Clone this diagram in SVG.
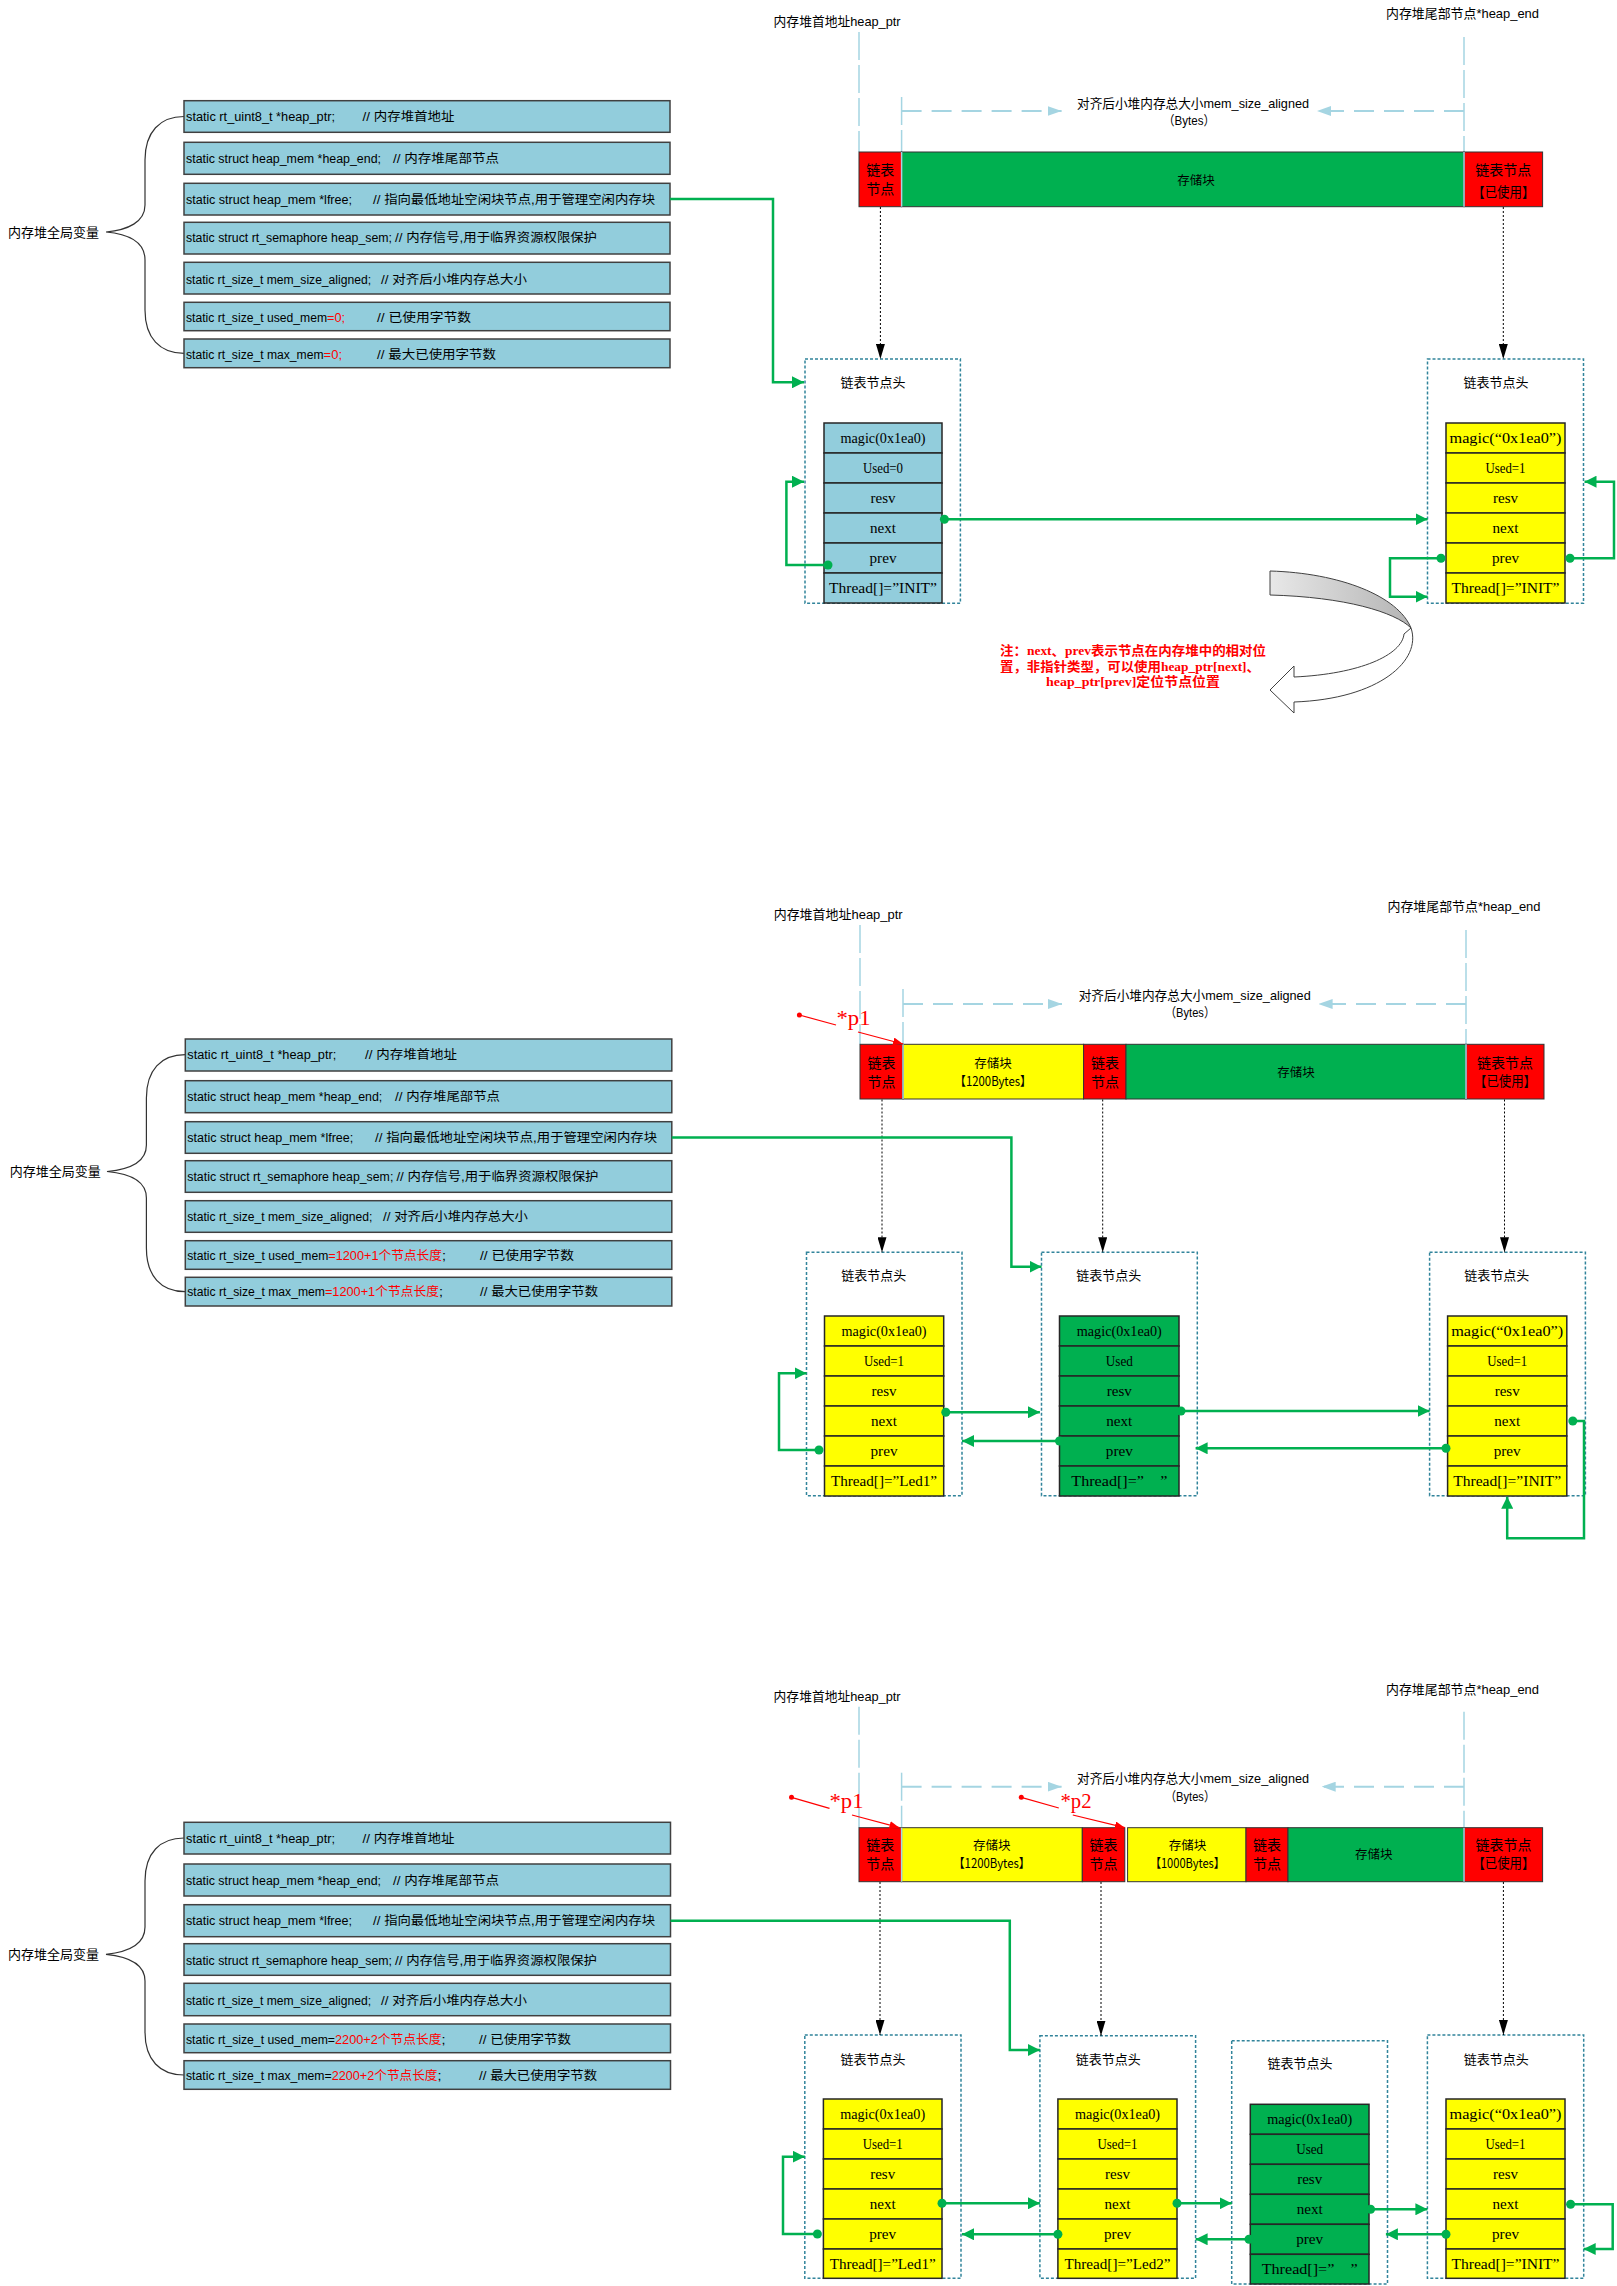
<svg xmlns="http://www.w3.org/2000/svg" width="1617" height="2286" viewBox="0 0 1617 2286">
<defs>
<style>
.vb{fill:#92cddc;stroke:#404040;stroke-width:1.5}
.cd{font-family:"Liberation Sans","Noto Sans CJK SC",sans-serif;font-size:12.5px;fill:#000}
.rd{fill:#ff0000}
.lb{font-family:"Liberation Sans","Noto Sans CJK SC",sans-serif;font-size:13px;fill:#000}
.br{fill:none;stroke:#333;stroke-width:1.2}
.nb{fill:none;stroke:#31849b;stroke-width:1.5;stroke-dasharray:3,2}
.cb{fill:#92cddc;stroke:#262626;stroke-width:1.5}
.cy{fill:#ffff00;stroke:#262626;stroke-width:1.5}
.cg{fill:#00b050;stroke:#262626;stroke-width:1.5}
.nt{font-family:"Liberation Serif","Noto Sans CJK SC",serif;font-size:14px;text-anchor:middle;fill:#000;white-space:pre}
.hd{font-family:"Noto Sans CJK SC",sans-serif;font-size:13px;text-anchor:middle;fill:#000}
.gc{fill:none;stroke:#00b050;stroke-width:2.5}
.dt{fill:#00b050}
.vd{fill:none;stroke:#a5d5e2;stroke-width:1.5;stroke-dasharray:28,5}
.hl{fill:none;stroke:#a5d5e2;stroke-width:2;stroke-dasharray:20,10}
.kd{fill:none;stroke:#000;stroke-width:1;stroke-dasharray:2,2}
.sr{fill:#ff0000;stroke:#333;stroke-width:1}
.sy{fill:#ffff00;stroke:#333;stroke-width:1}
.sg{fill:#00b050;stroke:#333;stroke-width:1}
.bt{font-family:"Noto Sans CJK SC",sans-serif;font-size:14px;text-anchor:middle;fill:#000}
.bs{font-family:"Noto Sans CJK SC",sans-serif;font-size:12.5px;text-anchor:middle;fill:#000}
.pl{fill:none;stroke:#ff0000;stroke-width:1.2}
.pt{font-family:"Liberation Serif",serif;font-size:21px;fill:#ff0000}
.nn{font-family:"Liberation Serif","Noto Sans CJK SC",serif;font-size:13px;font-weight:bold;fill:#ff0000}
.sep{fill:none;stroke:#a5d5e2;stroke-width:1.5}
</style>
<marker id="ag" viewBox="0 0 12 12" refX="12" refY="6" markerWidth="12" markerHeight="12" markerUnits="userSpaceOnUse" orient="auto"><path d="M0,0L12,6L0,12z" fill="#00b050"/></marker>
<marker id="ak" viewBox="0 0 15 9" refX="15" refY="4.5" markerWidth="15" markerHeight="9" markerUnits="userSpaceOnUse" orient="auto"><path d="M0,0L15,4.5L0,9z" fill="#000"/></marker>
<marker id="al" viewBox="0 0 14 10" refX="14" refY="5" markerWidth="14" markerHeight="10" markerUnits="userSpaceOnUse" orient="auto"><path d="M0,0L14,5L0,10z" fill="#a5d5e2"/></marker>
<marker id="ar" viewBox="0 0 10 8" refX="10" refY="4" markerWidth="10" markerHeight="8" markerUnits="userSpaceOnUse" orient="auto"><path d="M0,0L10,4L0,8z" fill="#ff0000"/></marker>
<linearGradient id="gg" x1="0" y1="0" x2="1" y2="0"><stop offset="0" stop-color="#e8e8e8"/><stop offset="1" stop-color="#b4b4b4"/></linearGradient>
</defs>
<rect x="0" y="0" width="1617" height="2286" fill="#fff"/>

<!-- ===================== SECTION 1 ===================== -->
<g id="s1-globals">
<text class="lb" x="8" y="236.5" textLength="91" lengthAdjust="spacingAndGlyphs">内存堆全局变量</text>
<path class="br" d="M184,116.5 C160,116.5 145,132 145,160 L145,205 C145,222 128,230 106,232 C128,234 145,242 145,260 L145,310 C145,338 160,353.4 184,353.4"/>
<g id="s1-row1"><rect class="vb" x="184" y="100.7" width="486" height="31.6"/><text class="cd" x="186" y="121" textLength="149" lengthAdjust="spacingAndGlyphs">static rt_uint8_t *heap_ptr;</text><text class="cd" x="362.5" y="121" textLength="92" lengthAdjust="spacingAndGlyphs">// 内存堆首地址</text></g>
<g id="s1-row2"><rect class="vb" x="184" y="142.3" width="486" height="32"/><text class="cd" x="186" y="163" textLength="195" lengthAdjust="spacingAndGlyphs">static struct heap_mem *heap_end;</text><text class="cd" x="393" y="163" textLength="106" lengthAdjust="spacingAndGlyphs">// 内存堆尾部节点</text></g>
<g id="s1-row3"><rect class="vb" x="184" y="183.3" width="486" height="31.7"/><text class="cd" x="186" y="204" textLength="166" lengthAdjust="spacingAndGlyphs">static struct heap_mem *lfree;</text><text class="cd" x="373" y="204" textLength="282" lengthAdjust="spacingAndGlyphs">// 指向最低地址空闲块节点,用于管理空闲内存块</text></g>
<g id="s1-row4"><rect class="vb" x="184" y="222.3" width="486" height="31.7"/><text class="cd" x="186" y="242" textLength="206" lengthAdjust="spacingAndGlyphs">static struct rt_semaphore heap_sem;</text><text class="cd" x="395" y="242" textLength="202" lengthAdjust="spacingAndGlyphs">// 内存信号,用于临界资源权限保护</text></g>
<g id="s1-row5"><rect class="vb" x="184" y="262.3" width="486" height="31.7"/><text class="cd" x="186" y="283.5" textLength="185" lengthAdjust="spacingAndGlyphs">static rt_size_t mem_size_aligned;</text><text class="cd" x="381" y="283.5" textLength="146" lengthAdjust="spacingAndGlyphs">// 对齐后小堆内存总大小</text></g>
<g id="s1-row6"><rect class="vb" x="184" y="302.3" width="486" height="28.4"/><text class="cd" x="186" y="321.8" textLength="141" lengthAdjust="spacingAndGlyphs">static rt_size_t used_mem</text><text class="cd rd" x="327" y="321.8" textLength="18" lengthAdjust="spacingAndGlyphs">=0;</text><text class="cd" x="377" y="321.8" textLength="94" lengthAdjust="spacingAndGlyphs">// 已使用字节数</text></g>
<g id="s1-row7"><rect class="vb" x="184" y="339" width="486" height="28.7"/><text class="cd" x="186" y="358.8" textLength="137.6" lengthAdjust="spacingAndGlyphs">static rt_size_t max_mem</text><text class="cd rd" x="323.6" y="358.8" textLength="18.4" lengthAdjust="spacingAndGlyphs">=0;</text><text class="cd" x="377" y="358.8" textLength="119" lengthAdjust="spacingAndGlyphs">// 最大已使用字节数</text></g>
</g>

<g id="s1-heap">
<text class="lb" x="773.6" y="25.5" textLength="127" lengthAdjust="spacingAndGlyphs">内存堆首地址heap_ptr</text>
<text class="lb" x="1386" y="18" textLength="153" lengthAdjust="spacingAndGlyphs">内存堆尾部节点*heap_end</text>
<text class="lb" x="1077" y="108" textLength="232" lengthAdjust="spacingAndGlyphs">对齐后小堆内存总大小mem_size_aligned</text>
<text class="lb" x="1163" y="124.5" textLength="52" lengthAdjust="spacingAndGlyphs">（Bytes）</text>
<line class="vd" x1="859" y1="32" x2="859" y2="152"/>
<line class="vd" x1="1464" y1="37" x2="1464" y2="152"/>
<line class="vd" x1="901.6" y1="97" x2="901.6" y2="152"/>
<line class="hl" x1="901.6" y1="111" x2="1061.6" y2="111" marker-end="url(#al)"/>
<line class="hl" x1="1464" y1="111" x2="1317" y2="111" marker-end="url(#al)"/>
<rect class="sr" x="859" y="152" width="42.6" height="54.7"/>
<rect class="sg" x="901.6" y="152" width="562.4" height="54.7"/>
<rect class="sr" x="1464" y="152" width="78.6" height="54.7"/>
<line class="sep" x1="901.6" y1="152" x2="901.6" y2="206.7"/>
<line class="sep" x1="1464" y1="152" x2="1464" y2="206.7"/>
<text class="bt" x="880.3" y="175" font-size="15">链表</text>
<text class="bt" x="880.3" y="193.5" font-size="15">节点</text>
<text class="bs" x="1196" y="184.5">存储块</text>
<text class="bt" x="1503.3" y="175">链表节点</text>
<text class="bt" x="1503.3" y="196.5" textLength="62" lengthAdjust="spacingAndGlyphs">【已使用】</text>
</g>

<g id="s1-node-L">
<rect class="nb" x="805" y="359" width="155.4" height="244.3"/>
<text class="hd" x="873" y="386.5">链表节点头</text>
<rect class="cb" x="824" y="423" width="118" height="30"/><rect class="cb" x="824" y="453" width="118" height="30"/><rect class="cb" x="824" y="483" width="118" height="30"/><rect class="cb" x="824" y="513" width="118" height="30"/><rect class="cb" x="824" y="543" width="118" height="30"/><rect class="cb" x="824" y="573" width="118" height="30"/>
<text class="nt" x="883" y="442.5" textLength="85" lengthAdjust="spacingAndGlyphs">magic(0x1ea0)</text>
<text class="nt" x="883" y="472.5" textLength="40" lengthAdjust="spacingAndGlyphs">Used=0</text>
<text class="nt" x="883" y="502.5" textLength="25" lengthAdjust="spacingAndGlyphs">resv</text>
<text class="nt" x="883" y="532.5" textLength="26" lengthAdjust="spacingAndGlyphs">next</text>
<text class="nt" x="883" y="562.5" textLength="27" lengthAdjust="spacingAndGlyphs">prev</text>
<text class="nt" x="883" y="592.5" textLength="108" lengthAdjust="spacingAndGlyphs">Thread[]=”INIT”</text>
</g>

<g id="s1-node-R">
<rect class="nb" x="1427.5" y="359" width="156" height="244.3"/>
<text class="hd" x="1496" y="386.5">链表节点头</text>
<rect class="cy" x="1446" y="423" width="119" height="30"/><rect class="cy" x="1446" y="453" width="119" height="30"/><rect class="cy" x="1446" y="483" width="119" height="30"/><rect class="cy" x="1446" y="513" width="119" height="30"/><rect class="cy" x="1446" y="543" width="119" height="30"/><rect class="cy" x="1446" y="573" width="119" height="30"/>
<text class="nt" x="1505.5" y="442.5" textLength="112" lengthAdjust="spacingAndGlyphs">magic(“0x1ea0”)</text>
<text class="nt" x="1505.5" y="472.5" textLength="40" lengthAdjust="spacingAndGlyphs">Used=1</text>
<text class="nt" x="1505.5" y="502.5" textLength="25" lengthAdjust="spacingAndGlyphs">resv</text>
<text class="nt" x="1505.5" y="532.5" textLength="26" lengthAdjust="spacingAndGlyphs">next</text>
<text class="nt" x="1505.5" y="562.5" textLength="27" lengthAdjust="spacingAndGlyphs">prev</text>
<text class="nt" x="1505.5" y="592.5" textLength="108" lengthAdjust="spacingAndGlyphs">Thread[]=”INIT”</text>
</g>

<g id="s1-note">
<path d="M1270,571 C1340,573 1398,596 1411,628 C1395,612 1345,597 1270,595 Z" fill="url(#gg)" stroke="#404040" stroke-width="1"/>
<path d="M1411,628 C1422,660 1380,699 1294,702 L1294,713 L1270,690 L1294,666 L1294,677 C1360,674 1402,655 1404,634 Z" fill="#fff" stroke="#404040" stroke-width="1"/>
<text class="nn" x="1000" y="654.5" textLength="266" lengthAdjust="spacingAndGlyphs">注：next、prev表示节点在内存堆中的相对位</text>
<text class="nn" x="1000" y="670.5" textLength="260" lengthAdjust="spacingAndGlyphs">置，非指针类型，可以使用heap_ptr[next]、</text>
<text class="nn" x="1046" y="686" textLength="174" lengthAdjust="spacingAndGlyphs">heap_ptr[prev]定位节点位置</text>
</g>

<!-- ===================== SECTION 2 ===================== -->
<g id="s2-globals">
<text class="lb" x="9.8" y="1176" textLength="91" lengthAdjust="spacingAndGlyphs">内存堆全局变量</text>
<path class="br" d="M185.3,1054.7 C161,1054.7 146.4,1070 146.4,1098 L146.4,1145 C146.4,1162 129,1169.5 107,1171.5 C129,1173.5 146.4,1181 146.4,1198 L146.4,1248 C146.4,1276 161,1291.7 185.3,1291.7"/>
<g id="s2-row1"><rect class="vb" x="185.3" y="1039" width="486.5" height="32"/><text class="cd" x="187.3" y="1059.2" textLength="149" lengthAdjust="spacingAndGlyphs">static rt_uint8_t *heap_ptr;</text><text class="cd" x="365" y="1059.2" textLength="92" lengthAdjust="spacingAndGlyphs">// 内存堆首地址</text></g>
<g id="s2-row2"><rect class="vb" x="185.3" y="1080.7" width="486.5" height="32"/><text class="cd" x="187.3" y="1101.2" textLength="195" lengthAdjust="spacingAndGlyphs">static struct heap_mem *heap_end;</text><text class="cd" x="395" y="1101.2" textLength="105" lengthAdjust="spacingAndGlyphs">// 内存堆尾部节点</text></g>
<g id="s2-row3"><rect class="vb" x="185.3" y="1121.7" width="486.5" height="31.6"/><text class="cd" x="187.3" y="1141.8" textLength="166" lengthAdjust="spacingAndGlyphs">static struct heap_mem *lfree;</text><text class="cd" x="375" y="1141.8" textLength="282" lengthAdjust="spacingAndGlyphs">// 指向最低地址空闲块节点,用于管理空闲内存块</text></g>
<g id="s2-row4"><rect class="vb" x="185.3" y="1160.7" width="486.5" height="31.6"/><text class="cd" x="187.3" y="1181.2" textLength="206" lengthAdjust="spacingAndGlyphs">static struct rt_semaphore heap_sem;</text><text class="cd" x="396.4" y="1181.2" textLength="202" lengthAdjust="spacingAndGlyphs">// 内存信号,用于临界资源权限保护</text></g>
<g id="s2-row5"><rect class="vb" x="185.3" y="1200.7" width="486.5" height="31.6"/><text class="cd" x="187.3" y="1221.2" textLength="185" lengthAdjust="spacingAndGlyphs">static rt_size_t mem_size_aligned;</text><text class="cd" x="383" y="1221.2" textLength="145" lengthAdjust="spacingAndGlyphs">// 对齐后小堆内存总大小</text></g>
<g id="s2-row6"><rect class="vb" x="185.3" y="1240.7" width="486.5" height="28.6"/><text class="cd" x="187.3" y="1259.5" textLength="141" lengthAdjust="spacingAndGlyphs">static rt_size_t used_mem</text><text class="cd rd" x="328.3" y="1259.5" textLength="113.7" lengthAdjust="spacingAndGlyphs">=1200+1个节点长度</text><text class="cd" x="442" y="1259.5" textLength="4" lengthAdjust="spacingAndGlyphs">;</text><text class="cd" x="480" y="1259.5" textLength="94" lengthAdjust="spacingAndGlyphs">// 已使用字节数</text></g>
<g id="s2-row7"><rect class="vb" x="185.3" y="1277.3" width="486.5" height="28.7"/><text class="cd" x="187.3" y="1296.2" textLength="137.6" lengthAdjust="spacingAndGlyphs">static rt_size_t max_mem</text><text class="cd rd" x="324.9" y="1296.2" textLength="114" lengthAdjust="spacingAndGlyphs">=1200+1个节点长度</text><text class="cd" x="439" y="1296.2" textLength="4" lengthAdjust="spacingAndGlyphs">;</text><text class="cd" x="480" y="1296.2" textLength="118" lengthAdjust="spacingAndGlyphs">// 最大已使用字节数</text></g>
</g>

<g id="s2-heap">
<text class="lb" x="773.7" y="919" textLength="129" lengthAdjust="spacingAndGlyphs">内存堆首地址heap_ptr</text>
<text class="lb" x="1387.5" y="910.5" textLength="153" lengthAdjust="spacingAndGlyphs">内存堆尾部节点*heap_end</text>
<text class="lb" x="1078.7" y="999.5" textLength="232" lengthAdjust="spacingAndGlyphs">对齐后小堆内存总大小mem_size_aligned</text>
<text class="lb" x="1165" y="1017" textLength="50" lengthAdjust="spacingAndGlyphs">（Bytes）</text>
<line class="vd" x1="860" y1="925" x2="860" y2="1044.3"/>
<line class="vd" x1="1466" y1="930" x2="1466" y2="1044.3"/>
<line class="vd" x1="903" y1="989" x2="903" y2="1044.3"/>
<line class="hl" x1="903" y1="1004" x2="1062" y2="1004" marker-end="url(#al)"/>
<line class="hl" x1="1466" y1="1004" x2="1318.6" y2="1004" marker-end="url(#al)"/>
<rect class="sr" x="860" y="1044.3" width="43" height="54.7"/>
<rect class="sy" x="903" y="1044.3" width="180.6" height="54.7"/>
<rect class="sr" x="1083.6" y="1044.3" width="42.4" height="54.7"/>
<rect class="sg" x="1126" y="1044.3" width="340" height="54.7"/>
<rect class="sr" x="1466" y="1044.3" width="78" height="54.7"/>
<line class="sep" x1="903" y1="1044.3" x2="903" y2="1099"/>
<line class="sep" x1="1466" y1="1044.3" x2="1466" y2="1099"/>
<text class="bt" x="881.5" y="1068" font-size="15">链表</text>
<text class="bt" x="881.5" y="1087" font-size="15">节点</text>
<text class="bs" x="993" y="1067.5">存储块</text>
<text class="bs" x="993" y="1086" textLength="77" lengthAdjust="spacingAndGlyphs">【1200Bytes】</text>
<text class="bt" x="1105" y="1068" font-size="15">链表</text>
<text class="bt" x="1105" y="1087" font-size="15">节点</text>
<text class="bs" x="1296" y="1076.5">存储块</text>
<text class="bt" x="1505" y="1068">链表节点</text>
<text class="bt" x="1505" y="1086" textLength="62" lengthAdjust="spacingAndGlyphs">【已使用】</text>
<circle cx="799.4" cy="1015" r="2.5" fill="#ff0000"/>
<line class="pl" x1="799.4" y1="1015" x2="836" y2="1025"/>
<text class="pt" x="836.5" y="1025" textLength="34" lengthAdjust="spacingAndGlyphs">*p1</text>
<line class="pl" x1="858" y1="1032" x2="903" y2="1044" marker-end="url(#ar)"/>
</g>

<g id="s2-node-A">
<rect class="nb" x="806.5" y="1252.3" width="155.5" height="243.4"/>
<text class="hd" x="873.7" y="1279.5">链表节点头</text>
<rect class="cy" x="824.5" y="1316" width="119.2" height="30"/><rect class="cy" x="824.5" y="1346" width="119.2" height="30"/><rect class="cy" x="824.5" y="1376" width="119.2" height="30"/><rect class="cy" x="824.5" y="1406" width="119.2" height="30"/><rect class="cy" x="824.5" y="1436" width="119.2" height="30"/><rect class="cy" x="824.5" y="1466" width="119.2" height="30"/>
<text class="nt" x="884" y="1335.5" textLength="85" lengthAdjust="spacingAndGlyphs">magic(0x1ea0)</text>
<text class="nt" x="884" y="1365.5" textLength="40" lengthAdjust="spacingAndGlyphs">Used=1</text>
<text class="nt" x="884" y="1395.5" textLength="25" lengthAdjust="spacingAndGlyphs">resv</text>
<text class="nt" x="884" y="1425.5" textLength="26" lengthAdjust="spacingAndGlyphs">next</text>
<text class="nt" x="884" y="1455.5" textLength="27" lengthAdjust="spacingAndGlyphs">prev</text>
<text class="nt" x="884" y="1485.5" textLength="106" lengthAdjust="spacingAndGlyphs">Thread[]=”Led1”</text>
</g>

<g id="s2-node-B">
<rect class="nb" x="1041.5" y="1252.3" width="155.8" height="243.4"/>
<text class="hd" x="1108.7" y="1279.5">链表节点头</text>
<rect class="cg" x="1059.5" y="1316" width="119.5" height="30"/><rect class="cg" x="1059.5" y="1346" width="119.5" height="30"/><rect class="cg" x="1059.5" y="1376" width="119.5" height="30"/><rect class="cg" x="1059.5" y="1406" width="119.5" height="30"/><rect class="cg" x="1059.5" y="1436" width="119.5" height="30"/><rect class="cg" x="1059.5" y="1466" width="119.5" height="30"/>
<text class="nt" x="1119.3" y="1335.5" textLength="85" lengthAdjust="spacingAndGlyphs">magic(0x1ea0)</text>
<text class="nt" x="1119.3" y="1365.5" textLength="27" lengthAdjust="spacingAndGlyphs">Used</text>
<text class="nt" x="1119.3" y="1395.5" textLength="25" lengthAdjust="spacingAndGlyphs">resv</text>
<text class="nt" x="1119.3" y="1425.5" textLength="26" lengthAdjust="spacingAndGlyphs">next</text>
<text class="nt" x="1119.3" y="1455.5" textLength="27" lengthAdjust="spacingAndGlyphs">prev</text>
<text class="nt" x="1119.3" y="1485.5" textLength="96" lengthAdjust="spacingAndGlyphs">Thread[]=”    ”</text>
</g>

<g id="s2-node-C">
<rect class="nb" x="1429.6" y="1252.3" width="155.8" height="243.4"/>
<text class="hd" x="1496.8" y="1279.5">链表节点头</text>
<rect class="cy" x="1447.6" y="1316" width="119.2" height="30"/><rect class="cy" x="1447.6" y="1346" width="119.2" height="30"/><rect class="cy" x="1447.6" y="1376" width="119.2" height="30"/><rect class="cy" x="1447.6" y="1406" width="119.2" height="30"/><rect class="cy" x="1447.6" y="1436" width="119.2" height="30"/><rect class="cy" x="1447.6" y="1466" width="119.2" height="30"/>
<text class="nt" x="1507.2" y="1335.5" textLength="112" lengthAdjust="spacingAndGlyphs">magic(“0x1ea0”)</text>
<text class="nt" x="1507.2" y="1365.5" textLength="40" lengthAdjust="spacingAndGlyphs">Used=1</text>
<text class="nt" x="1507.2" y="1395.5" textLength="25" lengthAdjust="spacingAndGlyphs">resv</text>
<text class="nt" x="1507.2" y="1425.5" textLength="26" lengthAdjust="spacingAndGlyphs">next</text>
<text class="nt" x="1507.2" y="1455.5" textLength="27" lengthAdjust="spacingAndGlyphs">prev</text>
<text class="nt" x="1507.2" y="1485.5" textLength="108" lengthAdjust="spacingAndGlyphs">Thread[]=”INIT”</text>
</g>

<!-- ===================== SECTION 3 ===================== -->
<g id="s3-globals">
<text class="lb" x="8" y="1959" textLength="91" lengthAdjust="spacingAndGlyphs">内存堆全局变量</text>
<path class="br" d="M184,1838 C160,1838 145,1853 145,1881 L145,1927 C145,1944 128,1952 106,1954.3 C128,1956.5 145,1964 145,1981 L145,2032 C145,2060 160,2075 184,2075"/>
<g id="s3-row1"><rect class="vb" x="184" y="1822.3" width="486.5" height="31.7"/><text class="cd" x="186" y="1842.5" textLength="149" lengthAdjust="spacingAndGlyphs">static rt_uint8_t *heap_ptr;</text><text class="cd" x="362.5" y="1842.5" textLength="92" lengthAdjust="spacingAndGlyphs">// 内存堆首地址</text></g>
<g id="s3-row2"><rect class="vb" x="184" y="1864" width="486.5" height="32"/><text class="cd" x="186" y="1884.5" textLength="195" lengthAdjust="spacingAndGlyphs">static struct heap_mem *heap_end;</text><text class="cd" x="393" y="1884.5" textLength="106" lengthAdjust="spacingAndGlyphs">// 内存堆尾部节点</text></g>
<g id="s3-row3"><rect class="vb" x="184" y="1904.7" width="486.5" height="32"/><text class="cd" x="186" y="1925.2" textLength="166" lengthAdjust="spacingAndGlyphs">static struct heap_mem *lfree;</text><text class="cd" x="373" y="1925.2" textLength="282" lengthAdjust="spacingAndGlyphs">// 指向最低地址空闲块节点,用于管理空闲内存块</text></g>
<g id="s3-row4"><rect class="vb" x="184" y="1943.7" width="486.5" height="31.6"/><text class="cd" x="186" y="1964.5" textLength="206" lengthAdjust="spacingAndGlyphs">static struct rt_semaphore heap_sem;</text><text class="cd" x="395" y="1964.5" textLength="202" lengthAdjust="spacingAndGlyphs">// 内存信号,用于临界资源权限保护</text></g>
<g id="s3-row5"><rect class="vb" x="184" y="1983.3" width="486.5" height="32.4"/><text class="cd" x="186" y="2004.5" textLength="185" lengthAdjust="spacingAndGlyphs">static rt_size_t mem_size_aligned;</text><text class="cd" x="381" y="2004.5" textLength="146" lengthAdjust="spacingAndGlyphs">// 对齐后小堆内存总大小</text></g>
<g id="s3-row6"><rect class="vb" x="184" y="2024" width="486.5" height="28.7"/><text class="cd" x="186" y="2043.5" textLength="149" lengthAdjust="spacingAndGlyphs">static rt_size_t used_mem=</text><text class="cd rd" x="335" y="2043.5" textLength="106.5" lengthAdjust="spacingAndGlyphs">2200+2个节点长度</text><text class="cd" x="441.5" y="2043.5" textLength="4" lengthAdjust="spacingAndGlyphs">;</text><text class="cd" x="479" y="2043.5" textLength="92" lengthAdjust="spacingAndGlyphs">// 已使用字节数</text></g>
<g id="s3-row7"><rect class="vb" x="184" y="2060.7" width="486.5" height="28.6"/><text class="cd" x="186" y="2079.5" textLength="145.7" lengthAdjust="spacingAndGlyphs">static rt_size_t max_mem=</text><text class="cd rd" x="331.7" y="2079.5" textLength="105.8" lengthAdjust="spacingAndGlyphs">2200+2个节点长度</text><text class="cd" x="437.5" y="2079.5" textLength="4" lengthAdjust="spacingAndGlyphs">;</text><text class="cd" x="479" y="2079.5" textLength="118" lengthAdjust="spacingAndGlyphs">// 最大已使用字节数</text></g>
</g>

<g id="s3-heap">
<text class="lb" x="773.6" y="1701" textLength="127" lengthAdjust="spacingAndGlyphs">内存堆首地址heap_ptr</text>
<text class="lb" x="1386" y="1694" textLength="153" lengthAdjust="spacingAndGlyphs">内存堆尾部节点*heap_end</text>
<text class="lb" x="1077" y="1783" textLength="232" lengthAdjust="spacingAndGlyphs">对齐后小堆内存总大小mem_size_aligned</text>
<text class="lb" x="1165" y="1800.5" textLength="50" lengthAdjust="spacingAndGlyphs">（Bytes）</text>
<line class="vd" x1="859" y1="1706.7" x2="859" y2="1827.7"/>
<line class="vd" x1="1464" y1="1711.7" x2="1464" y2="1827.7"/>
<line class="vd" x1="901.6" y1="1772.7" x2="901.6" y2="1827.7"/>
<line class="hl" x1="901.6" y1="1786.7" x2="1061.6" y2="1786.7" marker-end="url(#al)"/>
<line class="hl" x1="1464" y1="1786.7" x2="1321.7" y2="1786.7" marker-end="url(#al)"/>
<rect class="sr" x="859" y="1827.7" width="42.6" height="54"/>
<rect class="sy" x="901.6" y="1827.7" width="180.7" height="54"/>
<rect class="sr" x="1082.3" y="1827.7" width="42.5" height="54"/>
<rect class="sy" x="1127.6" y="1827.7" width="118.4" height="54"/>
<rect class="sr" x="1246" y="1827.7" width="42" height="54"/>
<rect class="sg" x="1288" y="1827.7" width="176" height="54"/>
<rect class="sr" x="1464" y="1827.7" width="78.6" height="54"/>
<line class="sep" x1="901.6" y1="1827.7" x2="901.6" y2="1881.7"/>
<line class="sep" x1="1464" y1="1827.7" x2="1464" y2="1881.7"/>
<text class="bt" x="880.3" y="1850" font-size="15">链表</text>
<text class="bt" x="880.3" y="1868.5" font-size="15">节点</text>
<text class="bs" x="991.7" y="1850">存储块</text>
<text class="bs" x="991.7" y="1868" textLength="77" lengthAdjust="spacingAndGlyphs">【1200Bytes】</text>
<text class="bt" x="1103.5" y="1850" font-size="15">链表</text>
<text class="bt" x="1103.5" y="1868.5" font-size="15">节点</text>
<text class="bs" x="1187.4" y="1850">存储块</text>
<text class="bs" x="1187.4" y="1868" textLength="75" lengthAdjust="spacingAndGlyphs">【1000Bytes】</text>
<text class="bt" x="1267" y="1850" font-size="15">链表</text>
<text class="bt" x="1267" y="1868.5" font-size="15">节点</text>
<text class="bs" x="1373.7" y="1859">存储块</text>
<text class="bt" x="1503.4" y="1850">链表节点</text>
<text class="bt" x="1503.4" y="1868" textLength="62" lengthAdjust="spacingAndGlyphs">【已使用】</text>
<circle cx="791.5" cy="1797.3" r="2.5" fill="#ff0000"/>
<line class="pl" x1="791.5" y1="1797.3" x2="829.5" y2="1808.3"/>
<text class="pt" x="829.5" y="1808" textLength="34" lengthAdjust="spacingAndGlyphs">*p1</text>
<line class="pl" x1="852" y1="1815" x2="899.4" y2="1827.7" marker-end="url(#ar)"/>
<circle cx="1021.3" cy="1797.3" r="2.5" fill="#ff0000"/>
<line class="pl" x1="1021.3" y1="1797.3" x2="1058.8" y2="1808"/>
<text class="pt" x="1060.5" y="1808" textLength="31" lengthAdjust="spacingAndGlyphs">*p2</text>
<line class="pl" x1="1072.8" y1="1815" x2="1124.8" y2="1827.7" marker-end="url(#ar)"/>
</g>

<g id="s3-node-A">
<rect class="nb" x="804.8" y="2035" width="156.2" height="243.3"/>
<text class="hd" x="873" y="2063.5">链表节点头</text>
<rect class="cy" x="823.4" y="2099" width="118.6" height="30"/><rect class="cy" x="823.4" y="2129" width="118.6" height="30"/><rect class="cy" x="823.4" y="2159" width="118.6" height="30"/><rect class="cy" x="823.4" y="2189" width="118.6" height="30"/><rect class="cy" x="823.4" y="2219" width="118.6" height="30"/><rect class="cy" x="823.4" y="2249" width="118.6" height="29.3"/>
<text class="nt" x="882.7" y="2118.5" textLength="85" lengthAdjust="spacingAndGlyphs">magic(0x1ea0)</text>
<text class="nt" x="882.7" y="2148.5" textLength="40" lengthAdjust="spacingAndGlyphs">Used=1</text>
<text class="nt" x="882.7" y="2178.5" textLength="25" lengthAdjust="spacingAndGlyphs">resv</text>
<text class="nt" x="882.7" y="2208.5" textLength="26" lengthAdjust="spacingAndGlyphs">next</text>
<text class="nt" x="882.7" y="2238.5" textLength="27" lengthAdjust="spacingAndGlyphs">prev</text>
<text class="nt" x="882.7" y="2268.5" textLength="106" lengthAdjust="spacingAndGlyphs">Thread[]=”Led1”</text>
</g>

<g id="s3-node-B">
<rect class="nb" x="1039.9" y="2035.7" width="155.7" height="242.6"/>
<text class="hd" x="1108.2" y="2063.5">链表节点头</text>
<rect class="cy" x="1057.9" y="2099" width="119.1" height="30"/><rect class="cy" x="1057.9" y="2129" width="119.1" height="30"/><rect class="cy" x="1057.9" y="2159" width="119.1" height="30"/><rect class="cy" x="1057.9" y="2189" width="119.1" height="30"/><rect class="cy" x="1057.9" y="2219" width="119.1" height="30"/><rect class="cy" x="1057.9" y="2249" width="119.1" height="29.3"/>
<text class="nt" x="1117.5" y="2118.5" textLength="85" lengthAdjust="spacingAndGlyphs">magic(0x1ea0)</text>
<text class="nt" x="1117.5" y="2148.5" textLength="40" lengthAdjust="spacingAndGlyphs">Used=1</text>
<text class="nt" x="1117.5" y="2178.5" textLength="25" lengthAdjust="spacingAndGlyphs">resv</text>
<text class="nt" x="1117.5" y="2208.5" textLength="26" lengthAdjust="spacingAndGlyphs">next</text>
<text class="nt" x="1117.5" y="2238.5" textLength="27" lengthAdjust="spacingAndGlyphs">prev</text>
<text class="nt" x="1117.5" y="2268.5" textLength="106" lengthAdjust="spacingAndGlyphs">Thread[]=”Led2”</text>
</g>

<g id="s3-node-C">
<rect class="nb" x="1231.7" y="2040.7" width="155.8" height="243.3"/>
<text class="hd" x="1300" y="2068">链表节点头</text>
<rect class="cg" x="1250.3" y="2104.3" width="118.7" height="30"/><rect class="cg" x="1250.3" y="2134.3" width="118.7" height="30"/><rect class="cg" x="1250.3" y="2164.3" width="118.7" height="30"/><rect class="cg" x="1250.3" y="2194.3" width="118.7" height="30"/><rect class="cg" x="1250.3" y="2224.3" width="118.7" height="30"/><rect class="cg" x="1250.3" y="2254.3" width="118.7" height="29.7"/>
<text class="nt" x="1309.7" y="2123.8" textLength="85" lengthAdjust="spacingAndGlyphs">magic(0x1ea0)</text>
<text class="nt" x="1309.7" y="2153.8" textLength="27" lengthAdjust="spacingAndGlyphs">Used</text>
<text class="nt" x="1309.7" y="2183.8" textLength="25" lengthAdjust="spacingAndGlyphs">resv</text>
<text class="nt" x="1309.7" y="2213.8" textLength="26" lengthAdjust="spacingAndGlyphs">next</text>
<text class="nt" x="1309.7" y="2243.8" textLength="27" lengthAdjust="spacingAndGlyphs">prev</text>
<text class="nt" x="1309.7" y="2273.8" textLength="96" lengthAdjust="spacingAndGlyphs">Thread[]=”    ”</text>
</g>

<g id="s3-node-D">
<rect class="nb" x="1427.4" y="2035" width="156.3" height="243.3"/>
<text class="hd" x="1496.3" y="2063.5">链表节点头</text>
<rect class="cy" x="1446" y="2099" width="119" height="30"/><rect class="cy" x="1446" y="2129" width="119" height="30"/><rect class="cy" x="1446" y="2159" width="119" height="30"/><rect class="cy" x="1446" y="2189" width="119" height="30"/><rect class="cy" x="1446" y="2219" width="119" height="30"/><rect class="cy" x="1446" y="2249" width="119" height="29.3"/>
<text class="nt" x="1505.5" y="2118.5" textLength="112" lengthAdjust="spacingAndGlyphs">magic(“0x1ea0”)</text>
<text class="nt" x="1505.5" y="2148.5" textLength="40" lengthAdjust="spacingAndGlyphs">Used=1</text>
<text class="nt" x="1505.5" y="2178.5" textLength="25" lengthAdjust="spacingAndGlyphs">resv</text>
<text class="nt" x="1505.5" y="2208.5" textLength="26" lengthAdjust="spacingAndGlyphs">next</text>
<text class="nt" x="1505.5" y="2238.5" textLength="27" lengthAdjust="spacingAndGlyphs">prev</text>
<text class="nt" x="1505.5" y="2268.5" textLength="108" lengthAdjust="spacingAndGlyphs">Thread[]=”INIT”</text>
</g>

<!-- ===================== CONNECTORS ===================== -->
<g id="connectors">
<!-- section 1 -->
<line class="kd" x1="880.4" y1="207" x2="880.4" y2="359" marker-end="url(#ak)"/>
<line class="kd" x1="1503.3" y1="207" x2="1503.3" y2="359" marker-end="url(#ak)"/>
<path class="gc" d="M670,199 H773 V382.3 H804" marker-end="url(#ag)"/>
<path class="gc" d="M944.4,519.3 H1427.5" marker-end="url(#ag)"/>
<path class="gc" d="M828,565 H786.4 V481.7 H804" marker-end="url(#ag)"/>
<path class="gc" d="M1441,558.3 H1390 V596.7 H1427.5" marker-end="url(#ag)"/>
<path class="gc" d="M1570,558.3 H1614 V481.7 H1584.5" marker-end="url(#ag)"/>
<circle class="dt" cx="944.4" cy="519.3" r="4.5"/>
<circle class="dt" cx="828" cy="565" r="4.5"/>
<circle class="dt" cx="1441" cy="558.3" r="4.5"/>
<circle class="dt" cx="1570" cy="558.3" r="4.5"/>
<!-- section 2 -->
<line class="kd" x1="882" y1="1099.5" x2="882" y2="1252.3" marker-end="url(#ak)"/>
<line class="kd" x1="1102.7" y1="1099.5" x2="1102.7" y2="1252.3" marker-end="url(#ak)"/>
<line class="kd" x1="1504.5" y1="1099.5" x2="1504.5" y2="1252.3" marker-end="url(#ak)"/>
<path class="gc" d="M671.8,1137.5 H1011.4 V1266.7 H1041.5" marker-end="url(#ag)"/>
<path class="gc" d="M819,1450 H779 V1373.3 H806.5" marker-end="url(#ag)"/>
<path class="gc" d="M945.8,1412.3 H1039.9" marker-end="url(#ag)"/>
<path class="gc" d="M1059.5,1441 H962" marker-end="url(#ag)"/>
<path class="gc" d="M1181,1411 H1429.6" marker-end="url(#ag)"/>
<path class="gc" d="M1446,1448.3 H1195.6" marker-end="url(#ag)"/>
<path class="gc" d="M1572.8,1421 H1584 V1538.3 H1507.2 V1496.7" marker-end="url(#ag)"/>
<circle class="dt" cx="819" cy="1450" r="4.5"/>
<circle class="dt" cx="945.8" cy="1412.3" r="4.5"/>
<circle class="dt" cx="1059.5" cy="1441" r="4.5"/>
<circle class="dt" cx="1181" cy="1411" r="4.5"/>
<circle class="dt" cx="1446" cy="1448.3" r="4.5"/>
<circle class="dt" cx="1572.8" cy="1421" r="4.5"/>
<!-- section 3 -->
<line class="kd" x1="880" y1="1882" x2="880" y2="2035" marker-end="url(#ak)"/>
<line class="kd" x1="1101" y1="1882" x2="1101" y2="2035.7" marker-end="url(#ak)"/>
<line class="kd" x1="1503.4" y1="1882" x2="1503.4" y2="2035" marker-end="url(#ak)"/>
<path class="gc" d="M670.5,1920.7 H1009.8 V2050 H1039.9" marker-end="url(#ag)"/>
<path class="gc" d="M817.4,2234 H783 V2156.7 H804.8" marker-end="url(#ag)"/>
<path class="gc" d="M942,2203.3 H1039.9" marker-end="url(#ag)"/>
<path class="gc" d="M1057.9,2234.3 H962" marker-end="url(#ag)"/>
<path class="gc" d="M1177,2203.3 H1231.7" marker-end="url(#ag)"/>
<path class="gc" d="M1249,2239.3 H1195.6" marker-end="url(#ag)"/>
<path class="gc" d="M1370.6,2209.3 H1427.4" marker-end="url(#ag)"/>
<path class="gc" d="M1446,2234.3 H1385.9" marker-end="url(#ag)"/>
<path class="gc" d="M1570.6,2204.3 H1612.7 V2249 H1583.7" marker-end="url(#ag)"/>
<circle class="dt" cx="817.4" cy="2234" r="4.5"/>
<circle class="dt" cx="942" cy="2203.3" r="4.5"/>
<circle class="dt" cx="1057.9" cy="2234.3" r="4.5"/>
<circle class="dt" cx="1177" cy="2203.3" r="4.5"/>
<circle class="dt" cx="1249" cy="2239.3" r="4.5"/>
<circle class="dt" cx="1370.6" cy="2209.3" r="4.5"/>
<circle class="dt" cx="1446" cy="2234.3" r="4.5"/>
<circle class="dt" cx="1570.6" cy="2204.3" r="4.5"/>
</g>
</svg>
